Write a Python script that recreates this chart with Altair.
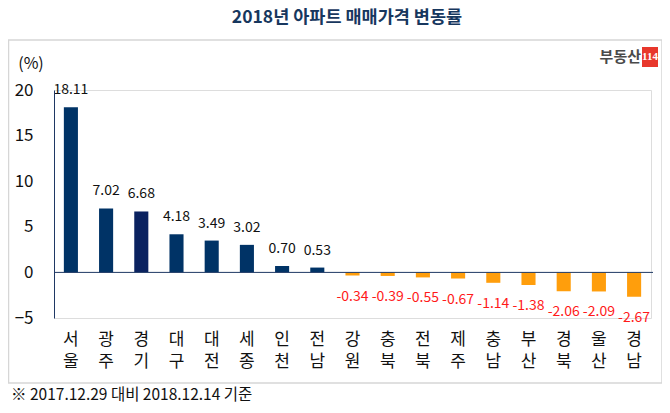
import altair as alt
import pandas as pd

regions = ["서울", "광주", "경기", "대구", "대전", "세종", "인천", "전남", "강원",
           "충북", "전북", "제주", "충남", "부산", "경북", "울산", "경남"]
values = [18.11, 7.02, 6.68, 4.18, 3.49, 3.02, 0.70, 0.53, -0.34,
          -0.39, -0.55, -0.67, -1.14, -1.38, -2.06, -2.09, -2.67]
y_ticks = [-5, 0, 5, 10, 15, 20]

title_text = "2018년 아파트 매매가격 변동률"
unit_text = "(%)"
footer_text = "※ 2017.12.29 대비 2018.12.14 기준"

df = pd.DataFrame({"region": regions, "value": values,
                   "label": [f"{v:.2f}" for v in values],
                   "c1": [r[0] for r in regions],
                   "c2": [r[1] for r in regions]})

W, H = 597, 228
FONT = "Noto Sans CJK KR"
NAVY = "#003366"
NAVY_DARK = "#0a2260"
ORANGE = "#FF9E0C"
RED = "#FF1A1A"

one = alt.Data(values=[{}])

x_enc = alt.X("region:N", sort=regions, title=None,
              scale=alt.Scale(paddingInner=0.6, paddingOuter=0.28),
              axis=alt.Axis(domain=False, ticks=False, labels=False))
y_enc = alt.Y("value:Q", title=None,
              scale=alt.Scale(domain=[-5, 20], nice=False),
              axis=alt.Axis(values=y_ticks, grid=False, ticks=False,
                            domainColor="#1f3864", domainWidth=1,
                            labelFont=FONT, labelFontSize=17, labelColor="#111111",
                            labelPadding=21, zindex=1))

frame = alt.Chart(one).mark_rect(fillOpacity=0, stroke="#d6d6d6", strokeWidth=1.5).encode(
    x=alt.value(-45.5), x2=alt.value(W + 11), y=alt.value(-50), y2=alt.value(293))

title = alt.Chart(one).mark_text(font=FONT, fontSize=17.5, fontWeight="bold",
                                 color="#17375e", align="center", baseline="middle").encode(
    x=alt.value(293), y=alt.value(-72), text=alt.value(title_text))

unit = alt.Chart(one).mark_text(font=FONT, fontSize=16, color="#111111",
                                align="center", baseline="middle").encode(
    x=alt.value(-23), y=alt.value(-26), text=alt.value(unit_text))

logo_txt = alt.Chart(one).mark_text(font=FONT, fontSize=15, fontWeight="bold",
                                    color="#4a4a4a", align="right", baseline="middle").encode(
    x=alt.value(587), y=alt.value(-33), text=alt.value("부동산"))
logo_box = alt.Chart(one).mark_rect(fill="#e8372c").encode(
    x=alt.value(588), x2=alt.value(604), y=alt.value(-43), y2=alt.value(-23))
logo_num = alt.Chart(one).mark_text(font="Liberation Sans Narrow", fontSize=11, fontWeight="bold",
                                    color="white", align="center", baseline="middle").encode(
    x=alt.value(596), y=alt.value(-33), text=alt.value("114"))

footer = alt.Chart(one).mark_text(font=FONT, fontSize=15.5, color="#111111",
                                  align="left", baseline="middle").encode(
    x=alt.value(-43), y=alt.value(305), text=alt.value(footer_text))

bar_color = (alt.when(alt.datum.region == "경기").then(alt.value(NAVY_DARK))
             .when(alt.datum.value >= 0).then(alt.value(NAVY))
             .otherwise(alt.value(ORANGE)))

bars = alt.Chart(df).mark_bar().encode(x=x_enc, y=y_enc, color=bar_color)

zero = alt.Chart(one).mark_rule(color="#1f3864", strokeWidth=1).encode(
    y=alt.datum(0), x=alt.value(0), x2=alt.value(W + 2))

pos_labels = alt.Chart(df).transform_filter("datum.value >= 0").mark_text(
    font=FONT, fontSize=14, color="#111111", baseline="middle", dy=-17).encode(
    x=alt.X("region:N", sort=regions), y="value:Q", text="label:N")
neg_labels = alt.Chart(df).transform_filter("datum.value < 0").mark_text(
    font=FONT, fontSize=14, color=RED, baseline="middle", dy=21).encode(
    x=alt.X("region:N", sort=regions), y="value:Q", text="label:N")

cat1 = alt.Chart(df).mark_text(font=FONT, fontSize=17, color="#111111",
                               baseline="middle").encode(
    x=alt.X("region:N", sort=regions), y=alt.value(H + 22), text="c1:N")
cat2 = alt.Chart(df).mark_text(font=FONT, fontSize=17, color="#111111",
                               baseline="middle").encode(
    x=alt.X("region:N", sort=regions), y=alt.value(H + 44), text="c2:N")

chart = alt.layer(frame, title, unit, logo_txt, logo_box, logo_num, footer,
                  bars, zero, pos_labels, neg_labels, cat1, cat2).properties(
    width=W, height=H,
    autosize=alt.AutoSizeParams(type="none"),
    padding={"left": 46, "top": 82, "right": 11, "bottom": 87},
).configure_view(stroke=None).configure(background="white")

chart.save("out.html", embed_options={"renderer": "svg", "actions": False})
